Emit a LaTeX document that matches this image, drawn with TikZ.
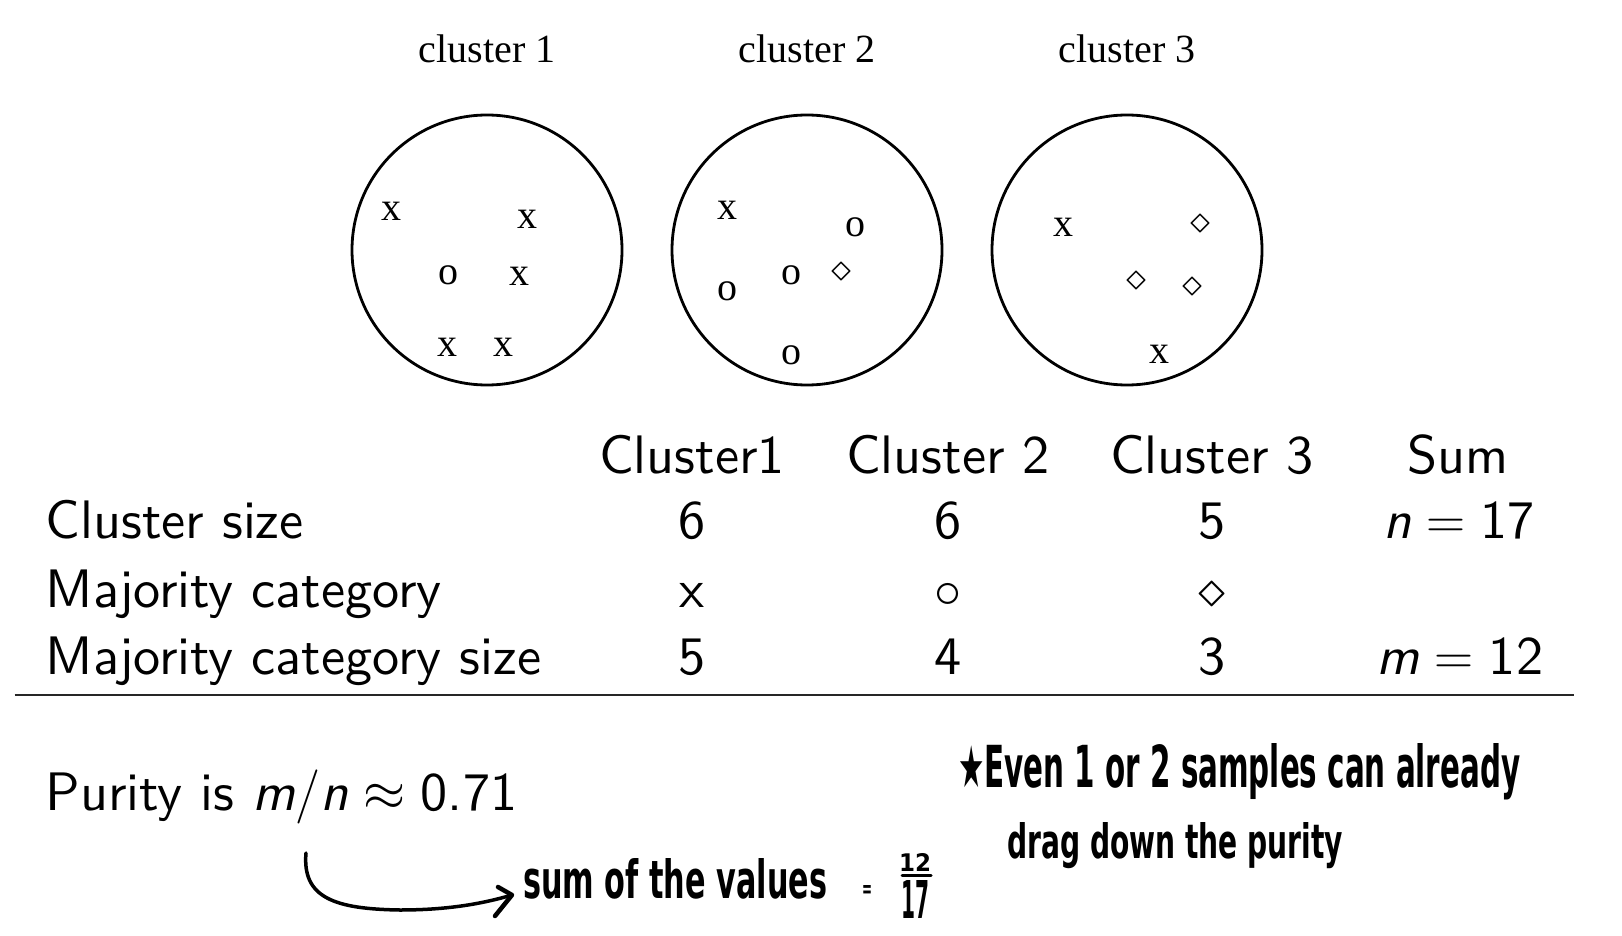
\RequirePackage{fix-cm}
\documentclass[tikz,border=0pt]{standalone}
\usepackage{fontspec}
\usepackage{graphicx}
\newfontfamily\tms{Liberation Serif}
\newfontfamily\hand{DejaVu Sans}
\newfontfamily\tabsf{lmsans10-regular.otf}[ItalicFont=lmsans10-oblique.otf]
\begin{document}
\begin{tikzpicture}[x=1pt,y=-1pt,
  clab/.style={font=\tms\fontsize{40}{44}\selectfont, anchor=base, inner sep=0pt},
  mk/.style={font=\tms\fontsize{40}{44}\selectfont, inner sep=0pt},
  clus/.style={circle, draw, line width=2.8pt, minimum size=270pt, inner sep=0pt},
  tab/.style={font=\tabsf\fontsize{54.2}{60}\selectfont, anchor=base, inner sep=0pt},
  rowlab/.style={tab, anchor=base west},
  hw/.style={font=\hand\bfseries, anchor=base west, inner sep=0pt},
  pen/.style={line width=3.5pt, line cap=round, line join=round}]
\useasboundingbox (0,0) rectangle (1622,936);
\fill[white] (0,0) rectangle (1622,936);

% clusters
\node[clus] (c1) at (487,250) {};
\node[clus] (c2) at (807,250) {};
\node[clus] (c3) at (1127,250) {};
\node[clab] (l1) at (487,63) {cluster 1};
\node[clab] (l2) at (807,63) {cluster 2};
\node[clab] (l3) at (1127,63) {cluster 3};

% cluster 1 points
\node[mk] (p11) at (391,211) {x};
\node[mk] (p12) at (527,219) {x};
\node[mk] (p13) at (448,275) {o};
\node[mk] (p14) at (519,276) {x};
\node[mk] (p15) at (447,347) {x};
\node[mk] (p16) at (503,347) {x};
% cluster 2 points
\node[mk] (p21) at (727,210) {x};
\node[mk] (p22) at (855,227) {o};
\node[mk] (p23) at (791,275) {o};
\node[mk] (p24) at (841,273) {$\diamond$};
\node[mk] (p25) at (727,291) {o};
\node[mk] (p26) at (791,355) {o};
% cluster 3 points
\node[mk] (p31) at (1063,227) {x};
\node[mk] (p32) at (1200,225) {$\diamond$};
\node[mk] (p33) at (1136,282) {$\diamond$};
\node[mk] (p34) at (1192,288) {$\diamond$};
\node[mk] (p35) at (1159,354) {x};

% table
\node[tab] (h1) at (692,473) {Cluster1};
\node[tab] (h2) at (948,473) {Cluster 2};
\node[tab] (h3) at (1212,473) {Cluster 3};
\node[tab] (h4) at (1458,473) {Sum};

\node[rowlab] (r1) at (45.5,538.5) {Cluster size};
\node[rowlab] (r2) at (45.5,607.5) {Majority category};
\node[rowlab] (r3) at (45.5,674.5) {Majority category size};

\node[tab] (v11) at (692,538.5) {6};
\node[tab] (v12) at (948,538.5) {6};
\node[tab] (v13) at (1212,538.5) {5};
\node[tab] (v14) at (1459,538.5) {{\itshape n}${}={}$17};

\node[tab] (v21) at (692,607.5) {x};
\node[tab] (v22) at (948,607.5) {$\circ$};
\node[tab] (v23) at (1212,607.5) {$\diamond$};

\node[tab] (v31) at (692,674.5) {5};
\node[tab] (v32) at (948,674.5) {4};
\node[tab] (v33) at (1212,674.5) {3};
\node[tab] (v34) at (1460,674.5) {{\itshape m}${}={}$12};

\coordinate (rl) at (14.5,695);
\coordinate (rr) at (1574,695);
\draw[line width=2.7pt, black!85] (rl) -- (rr);

% purity
\node[rowlab] (pur) at (45.5,810.5) {Purity is {\itshape m}$/${\itshape n}${}\approx{}$0.71};

% handwritten notes
\node[hw] (note1) at (958,787) {\resizebox{562pt}{44pt}{{\mdseries ★}Even 1 or 2 samples can already}};
\node[hw] (note2) at (1007,858) {\resizebox{336pt}{36pt}{drag down the purity}};
\node[hw] (sumv) at (523,898) {\resizebox{304pt}{40pt}{sum of the values}};
\node[hw] (eq) at (862,897) {\resizebox{10pt}{12pt}{=}};
\node[hw, anchor=base] (num) at (915,871) {\resizebox{32pt}{18pt}{12}};
\node[hw, anchor=base] (den) at (915,918) {\resizebox{28pt}{38pt}{17}};
\coordinate (bl) at (902,875);
\coordinate (br) at (931,875);
\draw[pen, line width=3pt] (bl) -- (br);

% arrow
\coordinate (as) at (306,853);
\coordinate (at) at (512,895);
\coordinate (aa1) at (498,887);
\coordinate (aa2) at (495,916);
\draw[pen] (as) .. controls (302,898) and (335,909) .. (400,910) .. controls (450,910) and (485,903) .. (at);
\draw[pen, line width=4.5pt] (aa1) -- (at) -- (aa2);
\end{tikzpicture}
\end{document}
